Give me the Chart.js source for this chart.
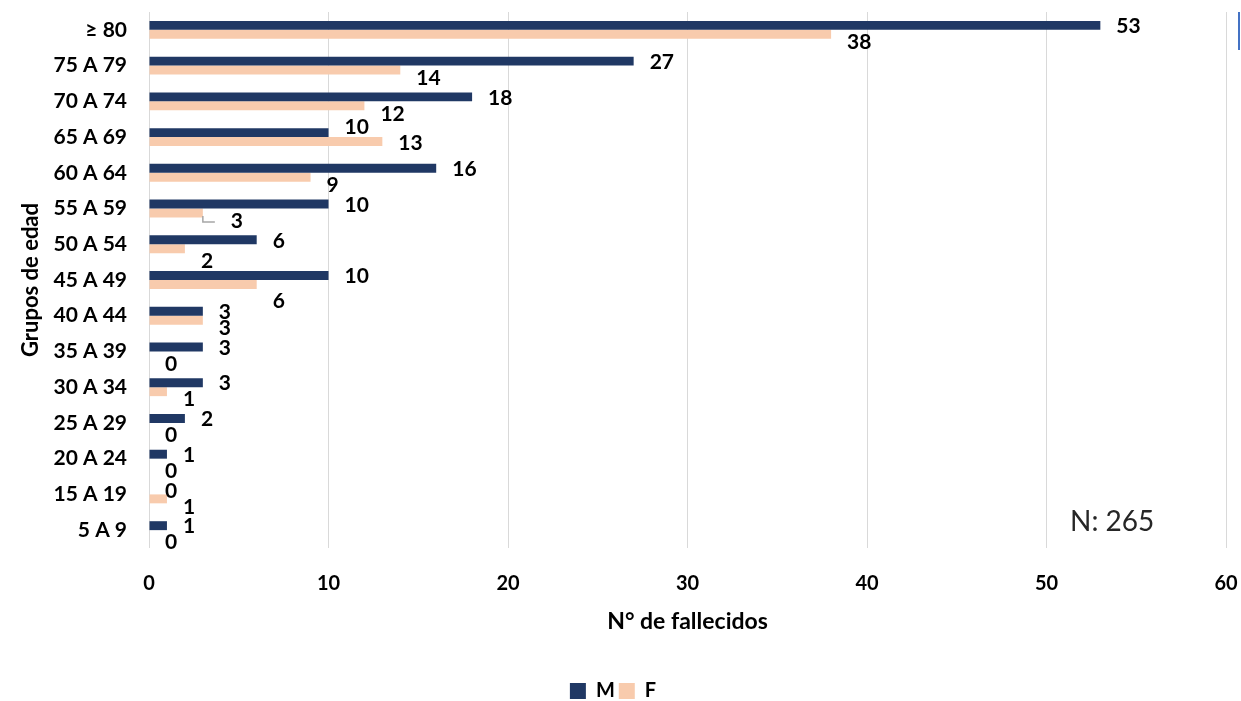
<!DOCTYPE html>
<html>
<head>
<meta charset="utf-8">
<script src="https://cdn.jsdelivr.net/npm/chart.js@4"></script>
<style>
  html, body { margin: 0; padding: 0; background: #fff; }
  #wrap { width: 1241px; height: 701px; }
</style>
</head>
<body>
<div id="wrap"><canvas id="barChart" width="1241" height="701"></canvas></div>
<script>
const categories = ['≥ 80', '75 A 79', '70 A 74', '65 A 69', '60 A 64', '55 A 59', '50 A 54', '45 A 49',
  '40 A 44', '35 A 39', '30 A 34', '25 A 29', '20 A 24', '15 A 19', '5 A 9'];
const male = [53, 27, 18, 10, 16, 10, 6, 10, 3, 3, 3, 2, 1, 0, 1];
const female = [38, 14, 12, 13, 9, 3, 2, 6, 3, 0, 1, 0, 0, 1, 0];
const xTicks = [0, 10, 20, 30, 40, 50, 60];
const totalText = 'N: 265';

const FONT = 'Lato, "Open Sans", sans-serif';

// a few labels sit off their usual spot in the original (dataset:index -> nudge)
const labelNudge = {
  '0:3': { dy: -6 },
  '1:3': { dy: -6 },
  '1:5': { dx: 12, leader: true },
  '1:6': { dy: 5 },
  '1:7': { dy: 9 }
};

function noPad(s) {
  s.paddingTop = 0;
  s.paddingBottom = 0;
  s.paddingLeft = 0;
  s.paddingRight = 0;
}

// value labels next to the end of each bar
const barLabels = {
  id: 'barLabels',
  afterDatasetsDraw(chart) {
    const ctx = chart.ctx;
    ctx.save();
    ctx.font = 'bold 21px ' + FONT;
    ctx.textAlign = 'left';
    ctx.textBaseline = 'middle';
    chart.data.datasets.forEach((ds, di) => {
      const meta = chart.getDatasetMeta(di);
      meta.data.forEach((bar, i) => {
        const n = labelNudge[di + ':' + i] || {};
        const x = bar.x + 16 + (n.dx || 0);
        const y = bar.y + (di === 0 ? 1 : 8) + (n.dy || 0);
        if (n.leader) {
          ctx.strokeStyle = '#a6a6a6';
          ctx.lineWidth = 1.5;
          ctx.beginPath();
          ctx.moveTo(bar.x, bar.y + 3);
          ctx.lineTo(bar.x, y + 1);
          ctx.lineTo(bar.x + 12, y + 1);
          ctx.stroke();
        }
        ctx.fillStyle = '#000';
        ctx.fillText(String(ds.data[i]), x, y);
      });
    });
    ctx.restore();
  }
};

// "N: 265" note and the clipped box edge at the top right
const extras = {
  id: 'extras',
  afterDraw(chart) {
    const ctx = chart.ctx;
    const a = chart.chartArea;
    ctx.save();
    ctx.font = '28px ' + FONT;
    ctx.fillStyle = '#262626';
    ctx.textAlign = 'left';
    ctx.textBaseline = 'middle';
    ctx.fillText(totalText, a.right - 156, a.bottom - 26);
    ctx.fillStyle = '#4472c4';
    ctx.fillRect(chart.width - 3, 12, 2, 38);
    ctx.restore();
  }
};

new Chart(document.getElementById('barChart').getContext('2d'), {
  type: 'bar',
  data: {
    labels: categories,
    datasets: [
      { label: 'M', data: male, backgroundColor: '#203864', categoryPercentage: 0.5, barPercentage: 1 },
      { label: 'F', data: female, backgroundColor: '#f8cbad', categoryPercentage: 0.5, barPercentage: 1 }
    ]
  },
  options: {
    indexAxis: 'y',
    responsive: false,
    animation: false,
    layout: { autoPadding: false, padding: { top: 12, right: 15, left: 0, bottom: -10 } },
    plugins: {
      tooltip: { enabled: false },
      legend: {
        position: 'bottom',
        labels: {
          boxWidth: 16,
          boxHeight: 16,
          padding: 4,
          color: '#000',
          font: { family: FONT, size: 20, weight: 'bold' }
        }
      }
    },
    scales: {
      x: {
        min: 0,
        max: 60,
        afterBuildTicks: s => { s.ticks = xTicks.map(v => ({ value: v })); },
        afterFit: s => { s.height = 129; noPad(s); },
        grid: { color: '#d9d9d9', lineWidth: 1, drawTicks: false },
        border: { display: false },
        ticks: { padding: 24, color: '#000', font: { family: FONT, size: 20, weight: 'bold' } },
        title: {
          display: true,
          text: 'N° de fallecidos',
          color: '#000',
          padding: { top: 10, bottom: 42 },
          font: { family: FONT, size: 23, weight: 'bold' }
        }
      },
      y: {
        grid: { display: false, drawTicks: false },
        border: { display: false },
        afterFit: s => { s.width = 149; noPad(s); },
        ticks: { padding: 22, color: '#000', font: { family: FONT, size: 21, weight: 'bold' } },
        title: {
          display: true,
          text: 'Grupos de edad',
          color: '#000',
          padding: { top: 18, bottom: 0 },
          font: { family: FONT, size: 22, weight: 'bold' }
        }
      }
    }
  },
  plugins: [barLabels, extras]
});
</script>
</body>
</html>
